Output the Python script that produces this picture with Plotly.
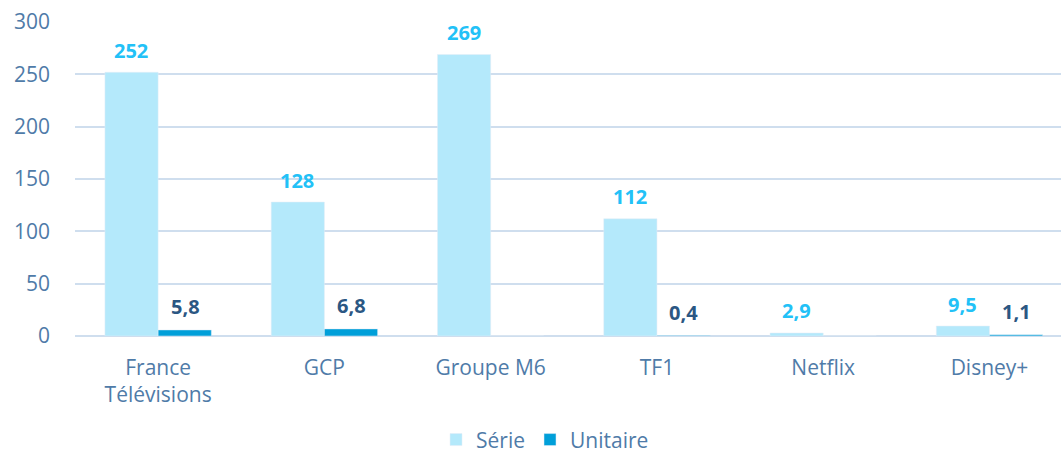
import plotly.graph_objects as go

categories = ["France<br>Télévisions", "GCP", "Groupe M6", "TF1", "Netflix", "Disney+"]
serie = [252, 128, 269, 112, 2.9, 9.5]
unitaire = [5.8, 6.8, 0, 0.4, 0, 1.1]
yticks = [0, 50, 100, 150, 200, 250, 300]

def fr(v):
    s = f"{v:g}"
    return s.replace(".", ",")

C_SERIE = "#b4e9fb"
C_UNIT = "#009fd9"
C_SERIE_TXT = "#22c1f7"
C_UNIT_TXT = "#2b5783"
C_AXIS = "#4f7ba8"
FONT = "Open Sans"

fig = go.Figure()
fig.add_trace(go.Bar(x=categories, y=serie, name="Série", marker_color=C_SERIE))
fig.add_trace(go.Bar(x=categories, y=unitaire, name="Unitaire", marker_color=C_UNIT))

ann = []
for c, v in zip(categories, serie):
    ann.append(dict(x=c, y=v, text=f"<b>{fr(v)}</b>", xshift=-27, yshift=22,
                    showarrow=False, yanchor="middle",
                    font=dict(family=FONT, size=20, color=C_SERIE_TXT)))
for c, v in zip(categories, unitaire):
    if v > 0:
        ann.append(dict(x=c, y=v, text=f"<b>{fr(v)}</b>", xshift=27, yshift=23,
                        showarrow=False, yanchor="middle",
                        font=dict(family=FONT, size=20, color=C_UNIT_TXT)))

fig.update_layout(
    width=1061, height=454,
    margin=dict(l=75, r=0, t=22, b=118),
    paper_bgcolor="white", plot_bgcolor="white",
    barmode="group", bargap=0.36, bargroupgap=0,
    font=dict(family=FONT, size=21, color=C_AXIS),
    annotations=ann,
    legend=dict(orientation="h", x=0.4767, xanchor="center",
                yref="container", y=0.031, yanchor="middle",
                font=dict(family=FONT, size=21, color=C_AXIS), itemwidth=30,
                traceorder="normal"),
    xaxis=dict(range=[-0.5, 5.43], showgrid=False, showline=False, ticks="",
               automargin=False,
               tickfont=dict(family=FONT, size=21, color=C_AXIS), ticklabelstandoff=17),
    yaxis=dict(range=[0, 300], tickvals=yticks, showgrid=True, gridcolor="#cfdeee",
               gridwidth=2, zeroline=True, zerolinecolor="#cfdeee", zerolinewidth=2,
               showline=False, ticks="", ticklabelstandoff=24, automargin=False,
               tickfont=dict(family=FONT, size=21, color=C_AXIS)),
)

fig.write_html(
    "out.html",
    config={"displayModeBar": False},
    post_script="document.body.style.margin='0';document.documentElement.style.overflow='hidden';",
)
